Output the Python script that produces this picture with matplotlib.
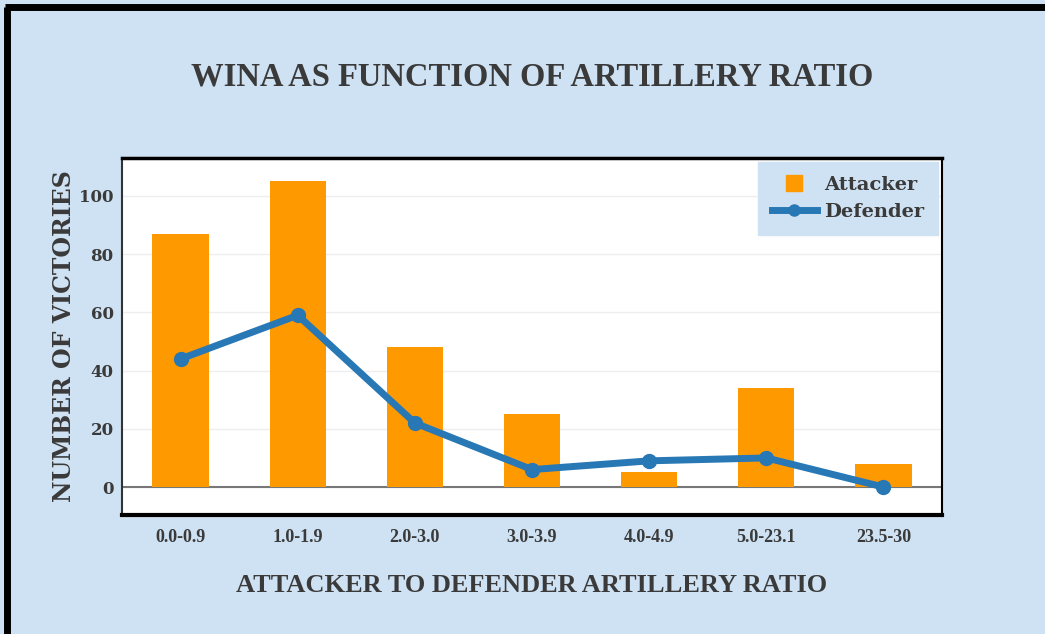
import matplotlib
matplotlib.use("Agg")
import matplotlib.pyplot as plt
from matplotlib.lines import Line2D
import numpy as np

categories = ["0.0-0.9", "1.0-1.9", "2.0-3.0", "3.0-3.9", "4.0-4.9", "5.0-23.1", "23.5-30"]
attacker = [87, 105, 48, 25, 5, 34, 8]
defender = [44, 59, 22, 6, 9, 10, 0]
y_ticks = [0, 20, 40, 60, 80, 100]

BG = "#cfe2f3"
ORANGE = "#ff9900"
BLUE = "#2878b5"
TXT = "#3a3a3a"
FONT = ["Liberation Serif", "DejaVu Serif"]
WIDE = ["DejaVu Serif"]

fig = plt.figure(figsize=(10.45, 6.34), dpi=100, facecolor=BG)
W, H = 1045, 634
ax = fig.add_axes([122 / W, 1 - 515 / H, 820 / W, 357 / H])
ax.set_facecolor("white")

x = np.arange(len(categories))
ax.bar(x, attacker, width=0.48, color=ORANGE, label="Attacker", zorder=2)
ax.plot(x, defender, color=BLUE, linewidth=5, marker="o", markersize=10,
        label="Defender", zorder=3, solid_capstyle="round")

ax.set_xlim(-0.5, len(categories) - 0.5)
ax.set_ylim(-9.6, 113)
ax.set_yticks(y_ticks)
ax.set_xticks(x)
ax.set_xticklabels(categories)
ax.tick_params(axis="x", length=0, pad=10, labelsize=13, colors=TXT)
ax.tick_params(axis="y", length=0, pad=6, labelsize=12, colors=TXT)
for lbl in ax.get_xticklabels():
    lbl.set_fontfamily(FONT)
    lbl.set_fontweight("bold")
for lbl in ax.get_yticklabels():
    lbl.set_fontfamily(WIDE)
    lbl.set_fontweight("bold")
ax.yaxis.grid(True, color="#eeeeee", linewidth=1, zorder=0)
ax.set_axisbelow(True)
ax.axhline(0, color="#777777", linewidth=1.5, zorder=1)

ax.spines["left"].set_color("#333333")
ax.spines["left"].set_linewidth(1.5)
ax.spines["top"].set_color("black")
ax.spines["top"].set_linewidth(2.5)
ax.spines["bottom"].set_color("black")
ax.spines["bottom"].set_linewidth(3)
ax.spines["right"].set_color("black")
ax.spines["right"].set_linewidth(1.5)

ax.set_xlabel("ATTACKER TO DEFENDER ARTILLERY RATIO", fontsize=19, fontweight="bold",
              family=FONT, color=TXT, labelpad=20)
ax.set_ylabel("NUMBER OF VICTORIES", fontsize=17, fontweight="bold",
              family=WIDE, color=TXT, labelpad=2)

fig.text(532 / W, 1 - 77 / H, "WINA AS FUNCTION OF ARTILLERY RATIO", ha="center", va="center",
         fontsize=23.5, fontweight="bold", family=FONT, color=TXT)

handles = [Line2D([], [], marker="s", linestyle="none", color=ORANGE, markersize=12),
           Line2D([], [], color=BLUE, linewidth=5, marker="o", markersize=8)]
leg = ax.legend(handles, ["Attacker", "Defender"], loc="upper right",
                bbox_to_anchor=(1.0, 1.0), borderaxespad=0.2, frameon=True, fancybox=False,
                facecolor=BG, edgecolor=BG, framealpha=1,
                prop={"family": WIDE, "weight": "bold", "size": 14},
                borderpad=0.7, handlelength=2.3, handletextpad=0.4, labelspacing=0.5)
for t in leg.get_texts():
    t.set_color(TXT)

# outer border (left and top)
fig.add_artist(Line2D([7 / W, 7 / W], [0, 1 - 7 / H], color="black", linewidth=5,
                      transform=fig.transFigure, solid_capstyle="butt"))
fig.add_artist(Line2D([4.5 / W, 1], [1 - 7 / H, 1 - 7 / H], color="black", linewidth=5,
                      transform=fig.transFigure, solid_capstyle="butt"))

fig.savefig("out.png", dpi=100, facecolor=BG)
